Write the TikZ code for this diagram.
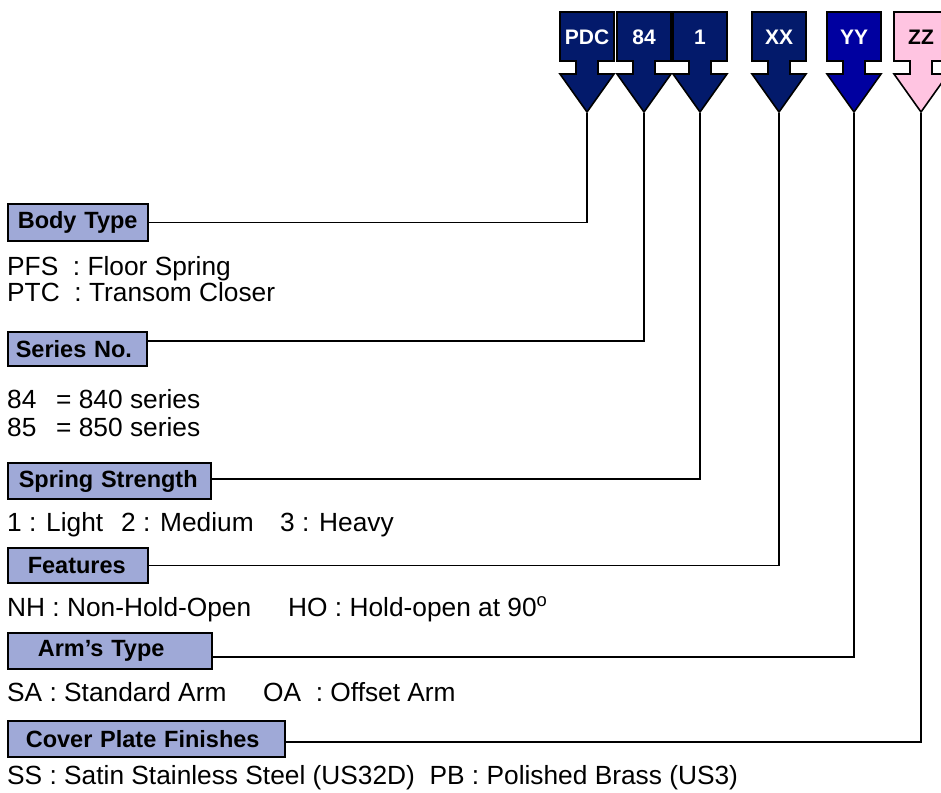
\documentclass[tikz,border=0pt]{standalone}
\usepackage{fontspec}
\setmainfont{Liberation Sans}
\usetikzlibrary{positioning}
\definecolor{navy}{HTML}{031A6B}
\definecolor{royal}{HTML}{0000A0}
\definecolor{blush}{HTML}{FFC4E1}
\definecolor{tagfill}{HTML}{9FA9D7}
\newcommand{\bodyfont}{\fontsize{26.3}{26.3}\selectfont}
\newcommand{\tagfont}{\fontsize{23.5}{26}\selectfont\bfseries}
% code arrow: name, centre x, fill, text colour, label
\newcommand{\codearrow}[5]{%
  \filldraw[fill=#3,draw=black,line width=1.6pt,line join=miter]
    (#2-27,12) -- (#2+27,12) -- (#2+27,61) -- (#2+11,61) -- (#2+11,74)
    -- (#2+27,74) -- (#2,112) -- (#2-27,74) -- (#2-11,74) -- (#2-11,61)
    -- (#2-27,61) -- cycle;
  \node[code,text=#4] (#1) at (#2,37) {#5};
  \coordinate (#1-tip) at (#2,113);
}

\begin{document}
\begin{tikzpicture}[x=1pt,y=-1pt,
  code/.style={inner sep=0pt,font=\fontsize{21}{24}\selectfont\bfseries},
  tag/.style 2 args={draw,fill=tagfill,line width=1.6pt,anchor=west,
    inner xsep=#1,inner ysep=0pt,text width=#2,align=left,font=\tagfont},
  item/.style={anchor=base west,inner sep=0pt,font=\bodyfont},
  link/.style={line width=1.6pt}]
\useasboundingbox (0,0) rectangle (941,792);

% code arrows
\codearrow{pdc}{587}{navy}{white}{PDC}
\codearrow{ser}{644}{navy}{white}{84}
\codearrow{str}{700}{navy}{white}{1}
\codearrow{feat}{779}{navy}{white}{XX}
\codearrow{arm}{854}{royal}{white}{YY}
\codearrow{fin}{921}{blush}{black}{ZZ}

% headings
\node[tag={10pt}{120pt},minimum height=37pt] (body) at (7,222.5) {Body Type};
\node[tag={8pt}{123pt},minimum height=34pt] (series) at (7,349) {Series No.};
\node[tag={11pt}{181pt},minimum height=36pt] (spring) at (7,481) {Spring Strength};
\node[tag={20pt}{100pt},minimum height=35pt] (features) at (7,565.5) {Features};
\node[tag={30pt}{144pt},minimum height=36pt] (arms) at (7,651) {Arm’s Type};
\node[tag={18pt}{241pt},minimum height=36pt] (cover) at (7,739) {Cover Plate Finishes};

% options
\node[item] (pfs) at (7,275.5) {PFS\ \ : Floor Spring};
\node[item] (ptc) at (7,301.5) {PTC\ \ : Transom Closer};
\node[item] (s84) at (7,408) {\makebox[49pt][l]{84}= 840 series};
\node[item] (s85) at (7,436) {\makebox[49pt][l]{85}= 850 series};
\node[item] (light) at (7,531) {1 : Light};
\node[item] (medium) at (121,531) {2 : Medium};
\node[item] (heavy) at (280,531) {3 : Heavy};
\node[item] (nh) at (7,616) {NH : Non-Hold-Open};
\node[item] (ho) at (288,616) {HO : Hold-open at 90\textsuperscript{o}};
\node[item] (sa) at (7,701) {SA : Standard Arm};
\node[item] (oa) at (263,701) {OA\ \ : Offset Arm};
\node[item] (ss) at (7,784) {SS : Satin Stainless Steel (US32D)\ \ PB : Polished Brass (US3)};

% leaders
\draw[link] (pdc-tip) |- (body.east);
\draw[link] (ser-tip) |- ([yshift=8pt]series.east);
\draw[link] (str-tip) |- ([yshift=2pt]spring.east);
\draw[link] (feat-tip) |- (features.east);
\draw[link] (arm-tip) |- ([yshift=-6pt]arms.east);
\draw[link] (fin-tip) |- ([yshift=-3pt]cover.east);
\end{tikzpicture}
\end{document}
